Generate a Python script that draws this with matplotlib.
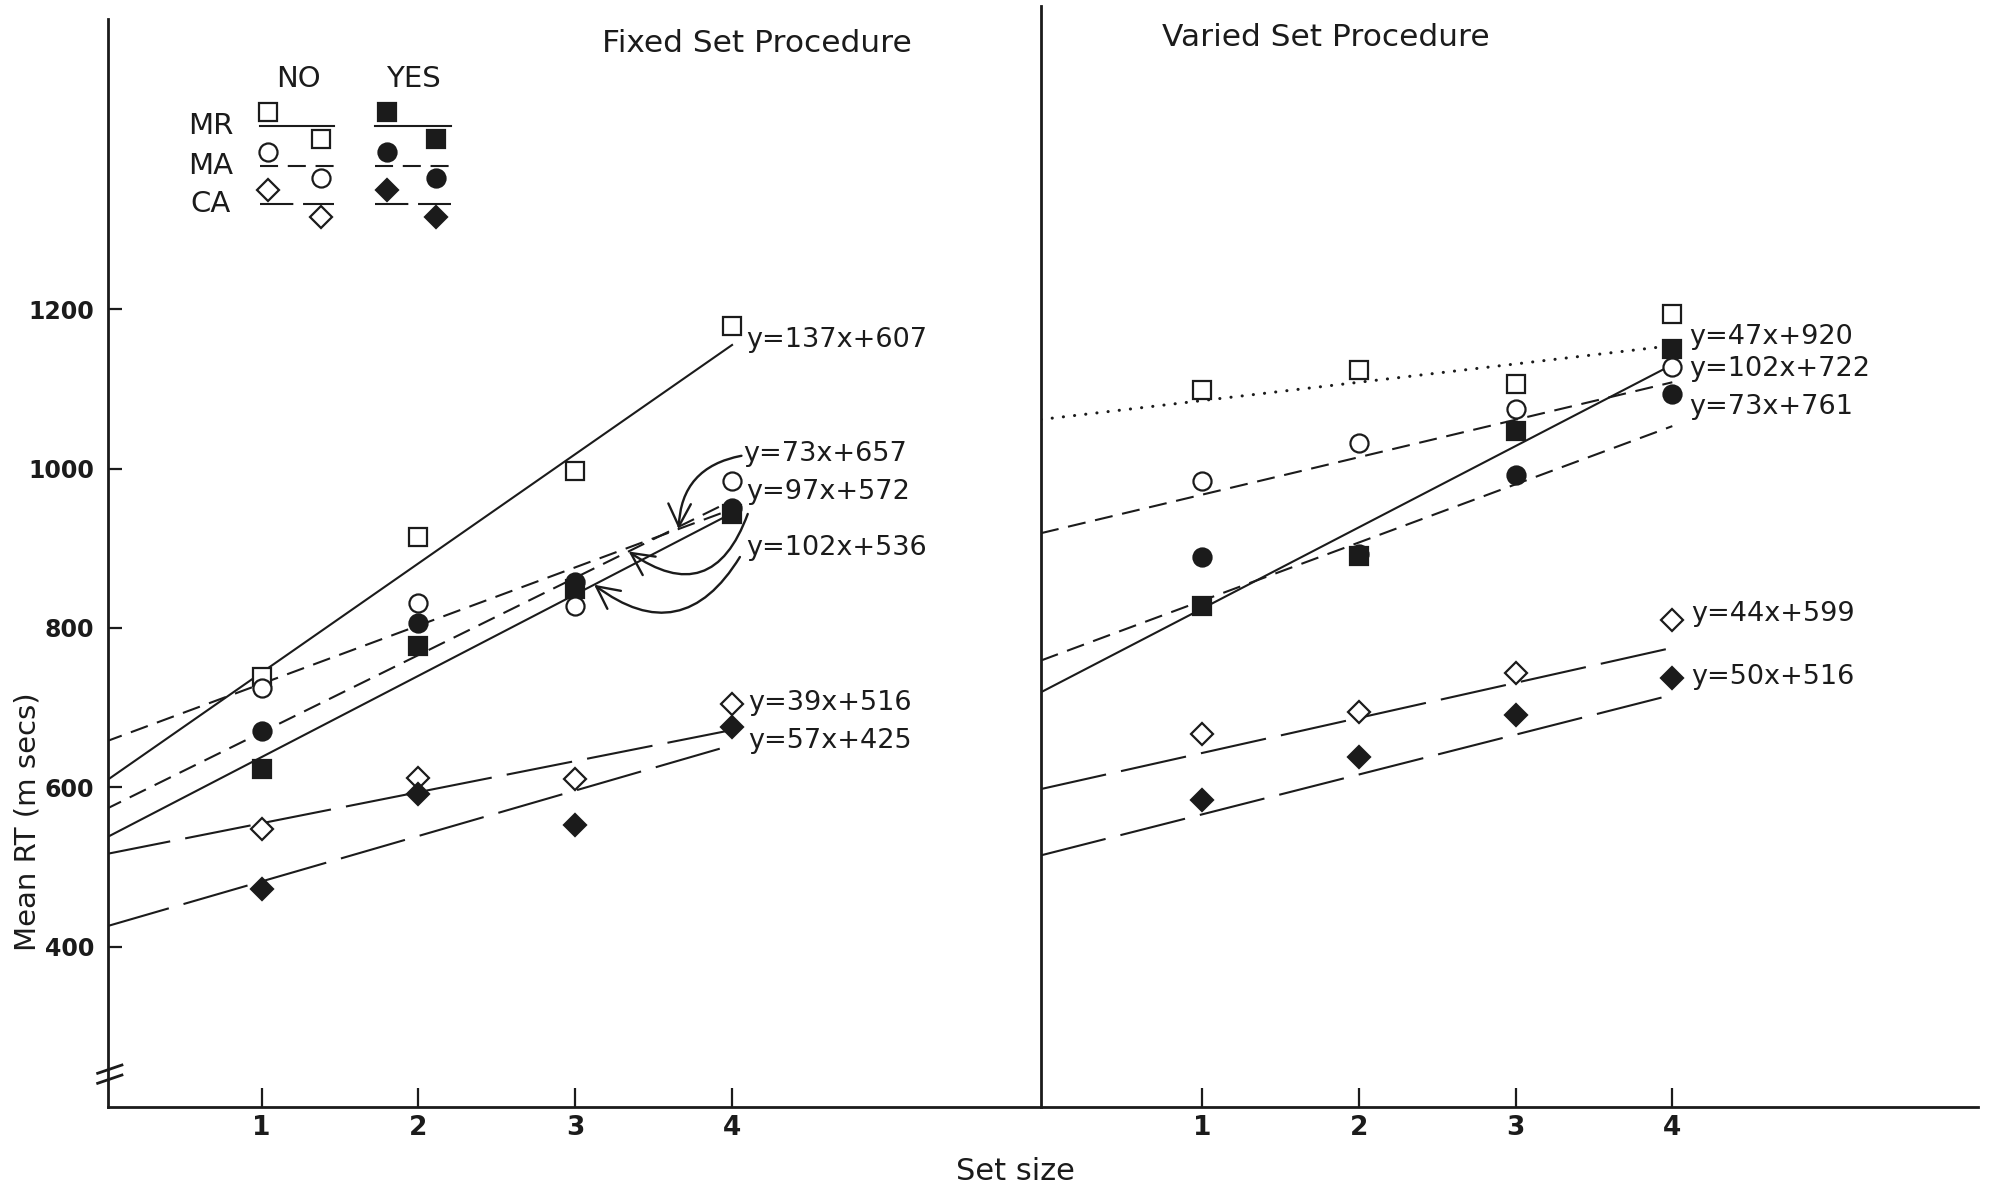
import numpy as np
import matplotlib.pyplot as plt
from matplotlib.patches import FancyArrowPatch

plt.rcParams['font.family'] = ['DejaVu Sans']
plt.rcParams['lines.scale_dashes'] = False

set_size = np.array([1, 2, 3, 4])
groups = ['MR', 'MA', 'CA']

# mean RT (ms) per set size -- fixed set procedure
fixed_no = {
    'MR': [738, 914, 997, 1179],
    'MA': [725, 831, 828, 984],
    'CA': [548, 612, 610, 704],
}
fixed_yes = {
    'MR': [623, 777, 849, 943],
    'MA': [671, 806, 858, 950],
    'CA': [472, 592, 553, 676],
}

# mean RT (ms) per set size -- varied set procedure
varied_no = {
    'MR': [1098, 1123, 1106, 1194],
    'MA': [984, 1032, 1075, 1127],
    'CA': [667, 695, 743, 810],
}
varied_yes = {
    'MR': [828, 890, 1047, 1150],
    'MA': [889, 892, 992, 1093],
    'CA': [584, 638, 691, 737],
}

# fitted lines: (slope, intercept)
fixed_fit_no = {'MR': (137, 607), 'MA': (73, 657), 'CA': (39, 516)}
fixed_fit_yes = {'MR': (102, 536), 'MA': (97, 572), 'CA': (57, 425)}
varied_fit_no = {'MR': (23, 1062), 'MA': (47, 920), 'CA': (44, 599)}
varied_fit_yes = {'MR': (102, 722), 'MA': (73, 761), 'CA': (50, 516)}

y_ticks = [400, 600, 800, 1000, 1200]

INK = '#1b1b1b'
markers = {'MR': 's', 'MA': 'o', 'CA': 'D'}
msize = {'MR': 13, 'MA': 13, 'CA': 11}
dash = {'MR': None, 'MA': (13, 7), 'CA': (48, 11)}
LW = 1.5


def fit_label(fit):
    return 'y={}x+{}'.format(*fit)


def draw_line(ax, fit, key, x0, dotted=False):
    xs = np.array([x0, 4.0])
    m, b = fit
    if dotted:
        ax.plot(xs, m * xs + b, color=INK, lw=2.2, dashes=(0.1, 8),
                dash_capstyle='round', zorder=2)
    elif dash[key] is None:
        ax.plot(xs, m * xs + b, color=INK, lw=LW, zorder=2)
    else:
        ax.plot(xs, m * xs + b, color=INK, lw=LW, dashes=dash[key], zorder=2)


def draw_points(ax, values, key, filled):
    ax.plot(set_size, values, linestyle='none', marker=markers[key],
            ms=msize[key], mew=1.6, mec=INK,
            mfc=INK if filled else 'white', zorder=3)


fig = plt.figure(figsize=(19.95, 11.92), dpi=100)
ax1 = fig.add_axes([0.0541, 0.0713, 0.4677, 0.9128])
ax2 = fig.add_axes([0.5218, 0.0713, 0.4697, 0.9237])
ax1.set_xlim(0.02, 5.97)
ax1.set_ylim(199, 1564)
ax2.set_xlim(-0.027, 5.95)
ax2.set_ylim(199, 1580)

for ax in (ax1, ax2):
    for s in ('top', 'right'):
        ax.spines[s].set_visible(False)
    for s in ('left', 'bottom'):
        ax.spines[s].set_linewidth(2)
        ax.spines[s].set_color(INK)
    ax.set_xticks(set_size)
    ax.set_xticklabels([str(v) for v in set_size],
                       fontweight='bold', fontsize=19)
    ax.tick_params(axis='x', direction='in', length=14, width=1.6,
                   pad=6, colors=INK)

ax1.set_yticks(y_ticks)
ax1.set_yticklabels([str(v) for v in y_ticks], fontweight='bold', fontsize=17)
ax1.tick_params(axis='y', direction='in', length=10, width=1.6, pad=10,
                colors=INK)
ax2.tick_params(axis='y', left=False, labelleft=False)

# axis break on the RT axis
for off in (0.0, -0.0092):
    ax1.plot([-0.011, 0.015], [0.031 + off, 0.0386 + off], color=INK,
             lw=2, transform=ax1.transAxes, clip_on=False)

# fixed set panel
for key in groups:
    draw_line(ax1, fixed_fit_no[key], key, 0.0)
    draw_line(ax1, fixed_fit_yes[key], key, 0.0)
for key in groups:
    draw_points(ax1, fixed_no[key], key, False)
    draw_points(ax1, fixed_yes[key], key, True)

# varied set panel
x0 = ax2.get_xlim()[0]
for key in groups:
    draw_line(ax2, varied_fit_no[key], key, x0, dotted=(key == 'MR'))
    draw_line(ax2, varied_fit_yes[key], key, x0)
for key in groups:
    draw_points(ax2, varied_no[key], key, False)
    draw_points(ax2, varied_yes[key], key, True)

eq_font = dict(fontsize=19.5, color=INK, va='center', ha='left')

# equations, fixed panel
ax1.text(4.09, 1161, fit_label(fixed_fit_no['MR']), **eq_font)
ax1.text(4.07, 1018, fit_label(fixed_fit_no['MA']), **eq_font)
ax1.text(4.09, 970, fit_label(fixed_fit_yes['MA']), **eq_font)
ax1.text(4.09, 900, fit_label(fixed_fit_yes['MR']), **eq_font)
ax1.text(4.10, 706, fit_label(fixed_fit_no['CA']), **eq_font)
ax1.text(4.10, 658, fit_label(fixed_fit_yes['CA']), **eq_font)

# curved pointers from equations to their lines
pointers = [
    ((4.06, 1016), fixed_fit_no['MA'], 3.66, 0.4),
    ((4.10, 943), fixed_fit_yes['MA'], 3.34, -0.65),
    ((4.05, 889), fixed_fit_yes['MR'], 3.12, -0.55),
]
for start, (m, b), xt, rad in pointers:
    arr = FancyArrowPatch(start, (xt, m * xt + b),
                          arrowstyle='->,head_length=0.9,head_width=0.45',
                          connectionstyle='arc3,rad={}'.format(rad),
                          mutation_scale=18, lw=1.7, color=INK,
                          shrinkA=0, shrinkB=0, zorder=4)
    ax1.add_patch(arr)

# equations, varied panel
ax2.text(4.11, 1165, fit_label(varied_fit_no['MA']), **eq_font)
ax2.text(4.11, 1125, fit_label(varied_fit_yes['MR']), **eq_font)
ax2.text(4.11, 1077, fit_label(varied_fit_yes['MA']), **eq_font)
ax2.text(4.12, 817, fit_label(varied_fit_no['CA']), **eq_font)
ax2.text(4.12, 738, fit_label(varied_fit_yes['CA']), **eq_font)

# panel titles
ax1.text(4.16, 1533, 'Fixed Set Procedure', fontsize=22.5, color=INK,
         ha='center', va='center')
ax2.text(1.79, 1540, 'Varied Set Procedure', fontsize=22.5, color=INK,
         ha='center', va='center')

# key
ax1.text(1.234, 1489, 'NO', fontsize=21, color=INK, ha='center', va='center')
ax1.text(1.965, 1489, 'YES', fontsize=21, color=INK, ha='center', va='center')
key_rows = {'MR': 1430, 'MA': 1380, 'CA': 1332}
legend_dash = {'MR': None, 'MA': (13, 7), 'CA': (24, 7)}
for key, yl in key_rows.items():
    ax1.text(0.674, yl, key, fontsize=21, color=INK, ha='center',
             va='center')
    for (xa, xb), (m1, m2), filled in (((0.99, 1.46), (1.04, 1.38), False),
                                       ((1.72, 2.21), (1.80, 2.11), True)):
        if legend_dash[key] is None:
            ax1.plot([xa, xb], [yl, yl], color=INK, lw=LW)
        else:
            ax1.plot([xa, xb], [yl, yl], color=INK, lw=LW,
                     dashes=legend_dash[key])
        for xm, ym in ((m1, yl + 17), (m2, yl - 16)):
            ax1.plot(xm, ym, marker=markers[key], ms=msize[key], mew=1.6,
                     mec=INK, mfc=INK if filled else 'white', zorder=3)

fig.text(0.5088, 0.0168, 'Set size', fontsize=22, color=INK,
         ha='center', va='center')
fig.text(0.014, 0.311, 'Mean RT (m secs)', fontsize=21, color=INK,
         rotation=90, ha='center', va='center')

fig.savefig('out.png', dpi=100, facecolor='white')
